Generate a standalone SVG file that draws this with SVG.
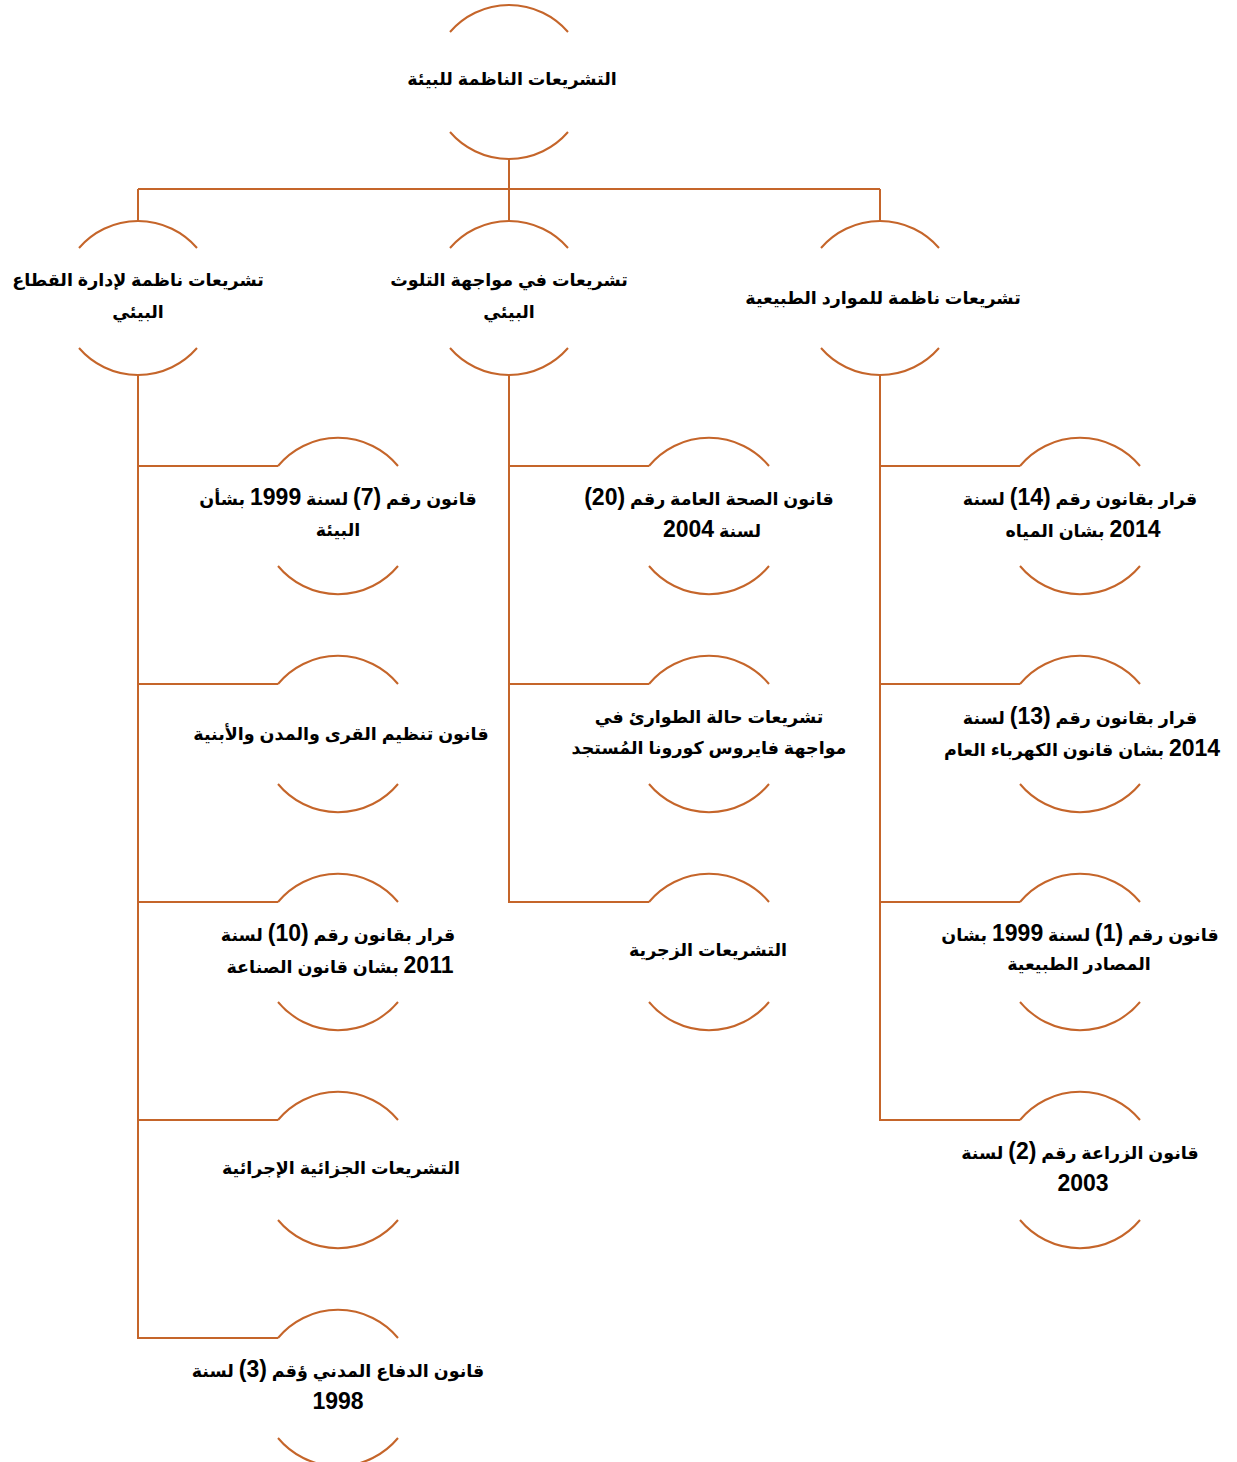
<svg xmlns="http://www.w3.org/2000/svg" width="1237" height="1462" viewBox="0 0 1237 1462">
<style>
.arc{fill:none;stroke:#C5652A;stroke-width:2}
.con{fill:none;stroke:#C5652A;stroke-width:2}
text{font-family:"Liberation Sans",Arial,"DejaVu Sans",sans-serif;font-weight:bold;font-size:17.5px;fill:#000;text-anchor:middle;direction:rtl;unicode-bidi:embed}
.n{font-size:23px}
</style>
<rect width="1237" height="1462" fill="#fff"/>
<g id="connectors">
<path class="con" d="M509 160V189M138 189H880M138 189V220M509 189V220M880 189V220"/>
<path class="con" d="M138 376V1338H278M138 466H278M138 684H278M138 902H278M138 1120H278"/>
<path class="con" d="M509 376V902H649M509 466H649M509 684H649"/>
<path class="con" d="M880 376V1120H1020M880 466H1020M880 684H1020M880 902H1020"/>
</g>
<g id="root"><path class="arc" d="M450 32A78 78 0 0 1 568 32M450 132A78 78 0 0 0 568 132"/><text x="512" y="85">التشريعات الناظمة للبيئة</text></g>
<g id="n-left"><path class="arc" d="M79 248A78 78 0 0 1 197 248M79 348A78 78 0 0 0 197 348"/><text x="138" y="286">تشريعات ناظمة لإدارة القطاع</text><text x="138" y="318">البيئي</text></g>
<g id="n-mid"><path class="arc" d="M450 248A78 78 0 0 1 568 248M450 348A78 78 0 0 0 568 348"/><text x="509" y="286">تشريعات في مواجهة التلوث</text><text x="509" y="318">البيئي</text></g>
<g id="n-right"><path class="arc" d="M821 248A78 78 0 0 1 939 248M821 348A78 78 0 0 0 939 348"/><text x="883" y="304">تشريعات ناظمة للموارد الطبيعية</text></g>
<g id="l1"><path class="arc" d="M278 466A78 78 0 0 1 398 466M278 566A78 78 0 0 0 398 566"/><text x="338" y="505">قانون رقم <tspan class="n">(7)</tspan> لسنة <tspan class="n">1999</tspan> بشأن</text><text x="338" y="536">البيئة</text></g>
<g id="l2"><path class="arc" d="M278 684A78 78 0 0 1 398 684M278 784A78 78 0 0 0 398 784"/><text x="341" y="740">قانون تنظيم القرى والمدن والأبنية</text></g>
<g id="l3"><path class="arc" d="M278 902A78 78 0 0 1 398 902M278 1002A78 78 0 0 0 398 1002"/><text x="338" y="941">قرار بقانون رقم <tspan class="n">(10)</tspan> لسنة</text><text x="340" y="973"><tspan class="n">2011</tspan> بشان قانون الصناعة</text></g>
<g id="l4"><path class="arc" d="M278 1120A78 78 0 0 1 398 1120M278 1220A78 78 0 0 0 398 1220"/><text x="341" y="1174">التشريعات الجزائية الإجرائية</text></g>
<g id="l5"><path class="arc" d="M278 1338A78 78 0 0 1 398 1338M278 1438A78 78 0 0 0 398 1438"/><text x="338" y="1377">قانون الدفاع المدني ؤقم <tspan class="n">(3)</tspan> لسنة</text><text x="338" y="1409"><tspan class="n">1998</tspan></text></g>
<g id="m1"><path class="arc" d="M649 466A78 78 0 0 1 769 466M649 566A78 78 0 0 0 769 566"/><text x="709" y="505">قانون الصحة العامة رقم <tspan class="n">(20)</tspan></text><text x="712" y="537">لسنة <tspan class="n">2004</tspan></text></g>
<g id="m2"><path class="arc" d="M649 684A78 78 0 0 1 769 684M649 784A78 78 0 0 0 769 784"/><text x="709" y="723">تشريعات حالة الطوارئ في</text><text x="709" y="754">مواجهة فايروس كورونا المُستجد</text></g>
<g id="m3"><path class="arc" d="M649 902A78 78 0 0 1 769 902M649 1002A78 78 0 0 0 769 1002"/><text x="708" y="956">التشريعات الزجرية</text></g>
<g id="r1"><path class="arc" d="M1020 466A78 78 0 0 1 1140 466M1020 566A78 78 0 0 0 1140 566"/><text x="1080" y="505">قرار بقانون رقم <tspan class="n">(14)</tspan> لسنة</text><text x="1083" y="537"><tspan class="n">2014</tspan> بشان المياه</text></g>
<g id="r2"><path class="arc" d="M1020 684A78 78 0 0 1 1140 684M1020 784A78 78 0 0 0 1140 784"/><text x="1080" y="724">قرار بقانون رقم <tspan class="n">(13)</tspan> لسنة</text><text x="1082" y="756"><tspan class="n">2014</tspan> بشان قانون الكهرباء العام</text></g>
<g id="r3"><path class="arc" d="M1020 902A78 78 0 0 1 1140 902M1020 1002A78 78 0 0 0 1140 1002"/><text x="1080" y="941">قانون رقم <tspan class="n">(1)</tspan> لسنة <tspan class="n">1999</tspan> بشان</text><text x="1079" y="970">المصادر الطبيعية</text></g>
<g id="r4"><path class="arc" d="M1020 1120A78 78 0 0 1 1140 1120M1020 1220A78 78 0 0 0 1140 1220"/><text x="1080" y="1159">قانون الزراعة رقم <tspan class="n">(2)</tspan> لسنة</text><text x="1083" y="1191"><tspan class="n">2003</tspan></text></g>
</svg>
